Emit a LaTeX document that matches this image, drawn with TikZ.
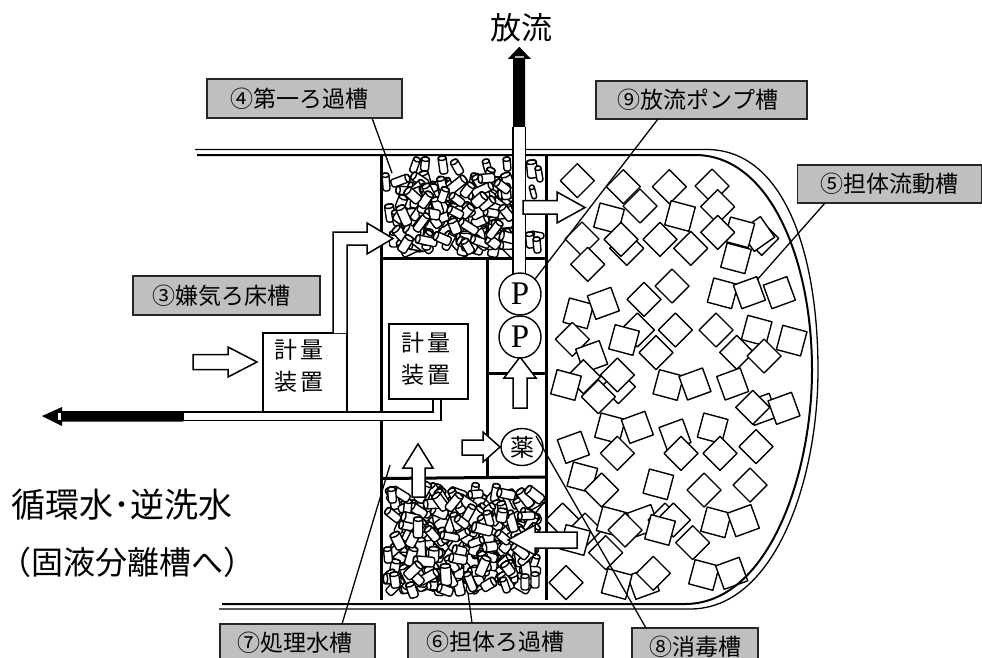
\documentclass[tikz,border=0pt]{standalone}
\usepackage{fontspec}
\usetikzlibrary{shapes.geometric}
\setmainfont{Noto Sans CJK JP}
\newfontfamily\serifP{Liberation Serif}
\tikzset{
  thinl/.style={line width=1.3pt,black},
  wall/.style={line width=3pt,black},
  media/.style={draw,fill=white,line width=1.4pt,line join=round},
  blockarrow/.style={draw=black,fill=white,line width=1.5pt,line join=miter},
  tag/.style={draw=black!85,fill=black!25,line width=1.6pt,inner sep=0pt,font=\fontsize{23}{23}\selectfont},
  meter/.style={draw=black,fill=white,line width=1.5pt,inner sep=0pt},
  metertext/.style={inner sep=0pt,align=center,font=\fontsize{23}{32}\selectfont},
  pump/.style={draw=black,fill=white,circle,line width=1.4pt,minimum size=42pt,inner sep=0pt},
  biglabel/.style={inner sep=0pt,anchor=west}
}
\newcommand\tagtext[2]{\raisebox{-1.5pt}{#1}\hspace*{#2pt}}
\newcommand\dia[2]{\draw[media] (#1-17,#2)--(#1,#2-17)--(#1+17,#2)--(#1,#2+17)--cycle;}
\newcommand\sqrbox[3]{\begin{scope}[shift={(#1,#2)},rotate=#3]\draw[media] (-12.5,-12.5) rectangle (12.5,12.5);\end{scope}}
\newcommand\zd[2]{\pgfmathsetmacro\zx{540+#1/3}\pgfmathsetmacro\zy{140+#2/3}\dia{\zx}{\zy}}
\newcommand\zs[3]{\pgfmathsetmacro\zx{540+#1/3}\pgfmathsetmacro\zy{140+#2/3}\sqrbox{\zx}{\zy}{#3}}
\newcommand\ud[2]{\pgfmathsetmacro\zx{540+#1/3}\pgfmathsetmacro\zy{370+#2/3}\dia{\zx}{\zy}}
\newcommand\us[3]{\pgfmathsetmacro\zx{540+#1/3}\pgfmathsetmacro\zy{370+#2/3}\sqrbox{\zx}{\zy}{#3}}
\newcommand\cyl[5]{\begin{scope}[shift={(#1,#2)},rotate=#3]
  \draw[media,rounded corners=2.5pt] (-#4,-#5) rectangle (#4,#5);
  \draw[media] (0,-#5+2.2) ellipse ({#4} and 2.2);
\end{scope}}
\newcommand\cylrnd[5]{%
  \foreach \i in {1,...,#1}{
    \pgfmathsetmacro\cx{#2+#3*rnd}
    \pgfmathsetmacro\cy{#4+#5*rnd}
    \pgfmathsetmacro\ca{-70+170*rnd}
    \pgfmathsetmacro\cw{3.6+1.6*rnd}
    \pgfmathsetmacro\cl{7+4*rnd}
    \cyl{\cx}{\cy}{\ca}{\cw}{\cl}
  }}
\begin{document}
\begin{tikzpicture}[x=1pt,y=-1pt]
\useasboundingbox (0,0) rectangle (982,658);
\clip (0,0) rectangle (982,658);
\fill[white] (0,0) rectangle (982,658);

% floating carrier
\zd{112}{122}\zd{250}{140}\zd{300}{198}\zd{388}{140}\zd{516}{138}\zd{533}{200}
\zs{207}{235}{-15}\zs{420}{228}{-15}
\zd{126}{297}\zd{260}{325}\zd{243}{298}\zd{360}{298}\zd{452}{325}\zd{143}{373}
\zd{665}{295}\zs{652}{282}{35}\zs{598}{277}{-15}\zd{533}{277}\zs{588}{355}{-15}
\zs{548}{460}{-15}\zs{628}{458}{20}\zs{718}{458}{20}
\zs{115}{520}{-15}\zs{190}{490}{20}\zd{312}{478}\zd{396}{438}
\zd{292}{570}\zs{252}{600}{-15}\zd{406}{570}\zd{97}{598}\zs{155}{650}{20}\zd{348}{638}
\zd{528}{570}\zs{650}{572}{-15}\zd{590}{637}\zd{672}{648}\zs{755}{602}{-15}
\ud{130}{20}\us{78}{45}{-15}\ud{235}{50}\ud{232}{15}\ud{175}{80}
\us{385}{45}{-15}\us{465}{42}{20}\us{578}{42}{20}
\us{665}{118}{20}\ud{638}{112}\us{732}{115}{20}
\us{210}{175}{-15}\us{292}{172}{20}\us{405}{195}{20}\us{518}{175}{-15}\us{100}{232}{20}
\ud{232}{250}\ud{423}{250}\ud{540}{250}\ud{648}{230}
\us{127}{322}{-15}\ud{185}{360}\us{355}{343}{-15}\ud{492}{360}\ud{630}{345}
\ud{68}{450}\ud{135}{480}\us{105}{510}{-15}\ud{197}{548}
\us{215}{455}{-15}\us{310}{452}{20}\ud{375}{450}\ud{400}{450}\ud{255}{480}\us{360}{480}{-15}
\ud{458}{518}\us{528}{457}{-15}\us{610}{452}{20}
\ud{78}{638}\us{310}{640}{20}\us{230}{642}{-15}\ud{340}{610}\us{492}{615}{-15}\us{575}{610}{20}

% filter media
\pgfmathsetseed{4217}
\cyl{415}{165}{-20}{3.5}{8}\cyl{425}{164}{-5}{4}{7}\cyl{443}{165}{8}{4}{9}\cyl{457}{167}{30}{4}{8}
\cyl{487}{166}{15}{3.5}{7}\cyl{507}{164}{5}{3.5}{7}
\cyl{532}{169}{5}{5}{9}\cyl{539}{174}{10}{3}{8}\cyl{533}{192}{15}{2.5}{7}\cyl{537}{235}{80}{3}{7}\cyl{530}{240}{5}{4}{8}\cyl{537}{245}{5}{3.5}{8}
\cyl{386}{182}{5}{3.5}{9}\cyl{390}{213}{8}{4.5}{9}\cyl{396}{218}{10}{3.5}{8}\cyl{394}{239}{0}{4.5}{8}
\cylrnd{190}{398}{112}{178}{72}
\cylrnd{260}{392}{145}{492}{96}
\cyl{392}{495}{5}{4}{8}\cyl{388}{555}{5}{4}{8}\cyl{395}{580}{8}{4.5}{8}\cyl{535}{580}{0}{4}{8}\cyl{525}{582}{0}{4}{8}
\cyl{412}{590}{20}{4.5}{8}\cyl{445}{590}{70}{4.5}{8}\cyl{505}{585}{20}{3.5}{8}

% tank outline
\draw[line width=1.3pt] (195,149.5)--(707,149.5) .. controls (785,150) and (818,255) .. (818,370) .. controls (818,480) and (775,609) .. (690,609)--(219,609);
\draw[line width=2pt] (197,155)--(695,155) .. controls (770,155) and (812,260) .. (812,370) .. controls (812,475) and (768,604) .. (685,604)--(222,604);

% walls
\draw[wall] (381,155)--(381,600);
\draw[wall] (546,155)--(546,600);
\draw[wall] (381,258)--(546,258);
\draw[wall] (487,258)--(487,478);
\draw[wall] (487,373)--(546,373);
\draw[wall] (381,478.5)--(546,477);

% effluent pipe and arrow
\draw[blockarrow,line width=1.2pt] (513,127)--(513,296)--(525.5,296)--(525.5,127);
\fill[black] (507.7,59)--(519.3,46.7)--(531,59)--(525,59)--(525,127)--(513,127)--(513,59)--cycle;
\fill[black!30] (515,56.5) rectangle (523.5,57.8);

% recycle pipe and arrow
\node[meter,minimum width=79pt,minimum height=75pt] (m2) at (428.5,361.5) {};
\node[metertext] (m2t) at (426,359) {計\hspace{3pt}量\\装\hspace{3pt}置};
\draw[blockarrow,line width=1.2pt] (433,399) rectangle (441,414);
\draw[blockarrow,line width=1.2pt] (183,412) rectangle (441,420.5);
\fill[white] (434,411) rectangle (440,414);
\fill[black] (183,411)--(62,411)--(62,407)--(42,416)--(62,426)--(62,421.5)--(183,421.5)--cycle;
\fill[white] (57.5,412.8) rectangle (61,420);

\node[meter,minimum width=84pt,minimum height=79pt] (m1) at (305,372.5) {};
\node[metertext] (m1t) at (299,366) {計\hspace{3pt}量\\装\hspace{3pt}置};

% block arrows
\draw[blockarrow] (193,354.5)--(228,354.5)--(228,347)--(257,362)--(228,377)--(228,369.5)--(193,369.5)--cycle;
\draw[blockarrow] (333,333)--(333,232)--(367,232)--(367,223)--(393,238.5)--(367,254)--(367,245)--(347,245)--(347,333);
\draw[blockarrow] (523,200.7)--(557,200.7)--(557,192)--(585,207.5)--(557,223)--(557,214)--(523,214)--cycle;
\draw[blockarrow] (513,408)--(513,378)--(504,378)--(520,357)--(536,378)--(527,378)--(527,408)--cycle;
\draw[blockarrow] (462,440)--(483,440)--(483,432)--(500,447)--(483,462)--(483,455)--(462,455)--cycle;
\draw[blockarrow] (412,497)--(412,468)--(403,468)--(418,444)--(433,468)--(425,468)--(425,497)--cycle;
\draw[blockarrow] (577,532)--(535,532)--(535,525)--(508,540)--(535,555)--(535,548)--(577,548)--cycle;

% pumps
\node[pump,font=\serifP\fontsize{33}{33}\selectfont] (p1) at (520,294) {P};
\node[pump,font=\serifP\fontsize{33}{33}\selectfont] (p2) at (520,337) {P};
\node[draw=black,fill=white,ellipse,line width=1.4pt,minimum width=42pt,minimum height=37pt,inner sep=0pt,font=\fontsize{24}{24}\selectfont] (yaku) at (522,447) {薬};

% tags
\node[tag,minimum width=195pt,minimum height=39pt] (t4) at (304.5,98.5) {\tagtext{④第一ろ過槽}{10}};
\node[tag,minimum width=211pt,minimum height=38pt] (t9) at (701.5,100) {\tagtext{⑨放流ポンプ槽}{7}};
\node[tag,minimum width=184pt,minimum height=38pt] (t5) at (889.5,184) {\tagtext{⑤担体流動槽}{0}};
\node[tag,minimum width=187pt,minimum height=39pt] (t3) at (226.5,295.5) {\tagtext{③嫌気ろ床槽}{11}};
\node[tag,minimum width=155pt,minimum height=38pt] (t7) at (297.5,643) {\tagtext{⑦処理水槽}{6}};
\node[tag,minimum width=195pt,minimum height=38pt] (t6) at (505.5,642) {\tagtext{⑥担体ろ過槽}{20}};
\node[tag,minimum width=126pt,minimum height=38pt] (t8) at (695,647) {\tagtext{⑧消毒槽}{0}};

% leaders
\coordinate (s4) at (372,118);\coordinate (e4) at (392,173);
\coordinate (s9) at (658,119);
\coordinate (s5) at (825,203);\coordinate (e5) at (757,280);
\coordinate (s6) at (472,623);\coordinate (e6) at (468,593);
\coordinate (s7) at (342,624);\coordinate (e7) at (390,465);
\coordinate (s8) at (646,628);\coordinate (e8) at (536,436);
\draw[thinl] (s4)--(e4);
\draw[thinl] (s9)--(p1.north east);
\draw[thinl] (s5)--(e5);
\draw[thinl] (s6)--(e6);
\draw[thinl] (s7)--(e7);
\draw[thinl] (s8)--(e8);

% texts
\node[inner sep=0pt,font=\fontsize{31}{31}\selectfont] (out) at (521,28) {放流};
\node[biglabel,font=\fontsize{34}{34}\selectfont] (rc) at (11,505) {循環水･逆洗水};
\node[biglabel,font=\fontsize{32}{32}\selectfont] (sep) at (-1,562) {（固液分離槽へ）};
\end{tikzpicture}
\end{document}
